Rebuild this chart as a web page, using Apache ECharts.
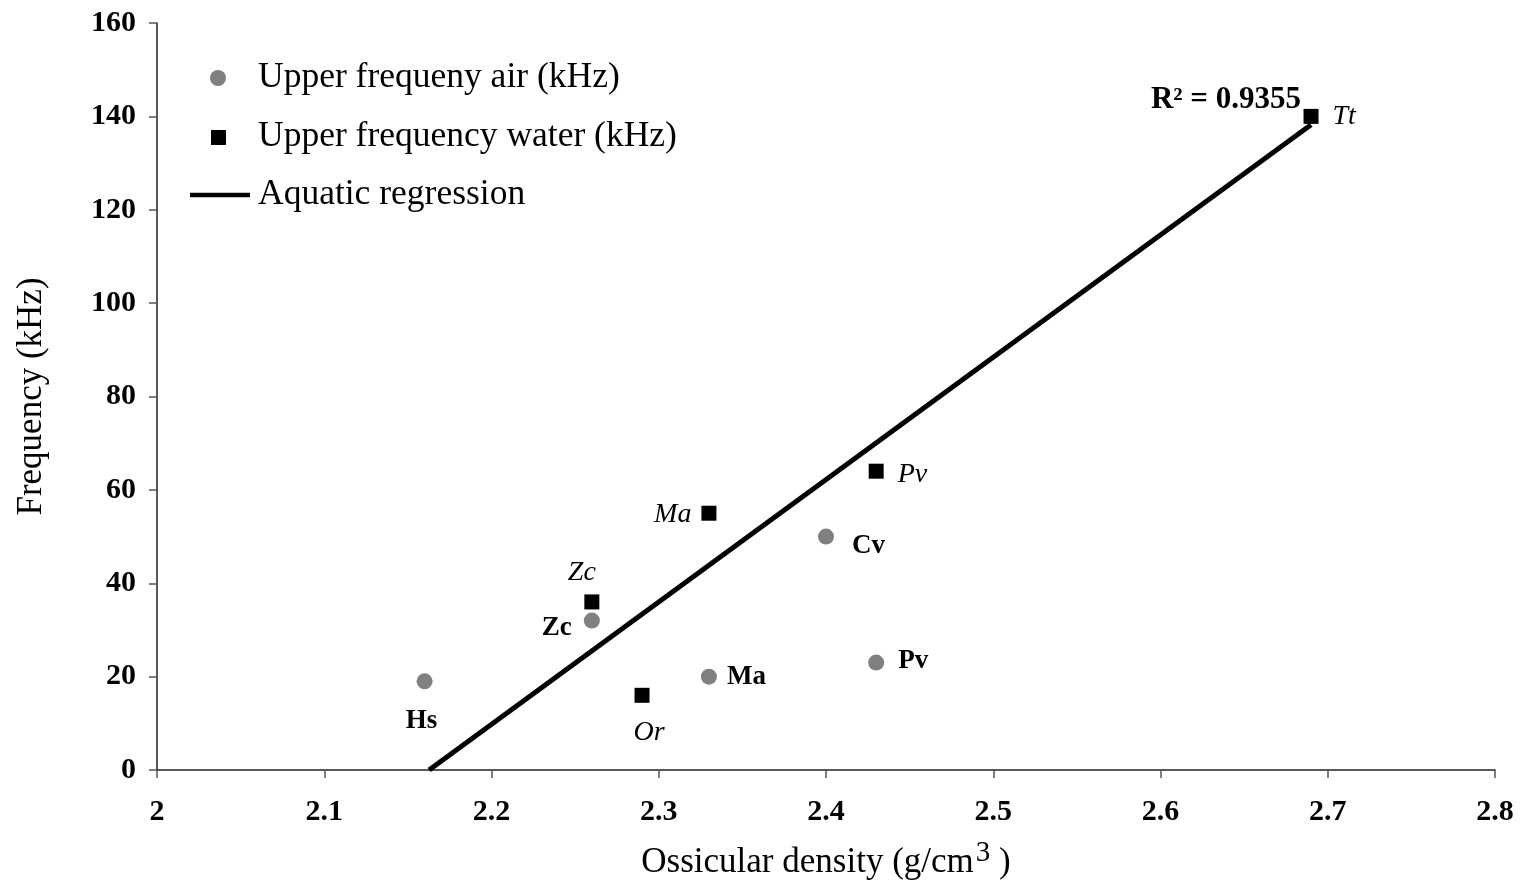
<!DOCTYPE html>
<html>
<head>
<meta charset="utf-8">
<title>Ossicular density vs upper frequency</title>
<script src="https://cdn.jsdelivr.net/npm/echarts/dist/echarts.min.js"></script>
<style>
  html, body { margin: 0; padding: 0; background: #fff; }
  #chart { width: 1526px; height: 882px; }
</style>
</head>
<body>
<div id="chart"></div>
<script>
// Upper hearing frequency in air (kHz) against ossicular density (g/cm3)
const airX = [2.16, 2.26, 2.33, 2.40, 2.43];
const airY = [19, 32, 20, 50, 23];
const airNames = ['Hs', 'Zc', 'Ma', 'Cv', 'Pv'];

// Upper hearing frequency in water (kHz) against ossicular density (g/cm3)
const waterX = [2.26, 2.29, 2.33, 2.43, 2.69];
const waterY = [36, 16, 55, 64, 140];
const waterNames = ['Zc', 'Or', 'Ma', 'Pv', 'Tt'];

const xTicks = [2, 2.1, 2.2, 2.3, 2.4, 2.5, 2.6, 2.7, 2.8];
const yTicks = [0, 20, 40, 60, 80, 100, 120, 140, 160];
const r2Text = 'R² = 0.9355';

// where each species label sits relative to its marker
const airLabelPos = [
  { position: 'bottom', distance: 18, offset: [-3, 0] },
  { position: 'left', distance: 12, offset: [0, 7] },
  { position: 'right', distance: 10 },
  { position: 'right', distance: 18, offset: [0, 9] },
  { position: 'right', distance: 14, offset: [0, -2] }
];
const waterLabelPos = [
  { position: 'top', distance: 8, offset: [-10, 0] },
  { position: 'bottom', distance: 14, offset: [7, 2] },
  { position: 'left', distance: 10, offset: [0, 1] },
  { position: 'right', distance: 14, offset: [0, 3] },
  { position: 'right', distance: 14 }
];

// least-squares fit through the aquatic points, drawn from its x-intercept
function fitLine(xs, ys) {
  const n = xs.length;
  const mx = xs.reduce((a, b) => a + b, 0) / n;
  const my = ys.reduce((a, b) => a + b, 0) / n;
  let sxy = 0, sxx = 0;
  for (let i = 0; i < n; i++) {
    sxy += (xs[i] - mx) * (ys[i] - my);
    sxx += (xs[i] - mx) * (xs[i] - mx);
  }
  const slope = sxy / sxx;
  const intercept = my - slope * mx;
  return { slope, intercept };
}
const fit = fitLine(waterX, waterY);
const xStart = -fit.intercept / fit.slope;
const xEnd = Math.max(...waterX);
const regression = [[xStart, 0], [xEnd, fit.slope * xEnd + fit.intercept]];

const SERIF = '"Liberation Serif", "Times New Roman", serif';
const labelBold = { fontFamily: SERIF, fontWeight: 'bold', fontSize: 27, color: '#000' };
const labelItalic = { fontFamily: SERIF, fontStyle: 'italic', fontSize: 28, color: '#000' };

const chart = echarts.init(document.getElementById('chart'), null, { renderer: 'canvas' });

chart.setOption({
  animation: false,
  backgroundColor: '#fff',
  grid: { left: 157, right: 31, top: 23, bottom: 112, containLabel: false, outerBoundsMode: 'none' },
  xAxis: {
    type: 'value',
    min: xTicks[0],
    max: xTicks[xTicks.length - 1],
    interval: 0.1,
    name: 'Ossicular density (g/cm{sup|3} )',
    nameLocation: 'middle',
    nameGap: 69,
    nameTextStyle: {
      fontFamily: SERIF, fontSize: 35, color: '#000',
      rich: { sup: { fontFamily: SERIF, fontSize: 29, color: '#000', padding: [0, 0, 18, 2] } }
    },
    axisLine: { show: true, onZero: false, lineStyle: { color: '#222', width: 1.5 } },
    axisTick: { show: true, inside: false, length: 8, lineStyle: { color: '#555', width: 1.5 } },
    axisLabel: {
      margin: 27, fontFamily: SERIF, fontWeight: 'bold', fontSize: 30, color: '#000',
      formatter: v => String(Math.round(v * 10) / 10)
    },
    splitLine: { show: false }
  },
  yAxis: {
    type: 'value',
    min: yTicks[0],
    max: yTicks[yTicks.length - 1],
    interval: 20,
    name: 'Frequency (kHz)',
    nameLocation: 'middle',
    nameGap: 108,
    nameRotate: 90,
    nameTextStyle: { fontFamily: SERIF, fontSize: 35, color: '#000' },
    axisLine: { show: true, onZero: false, lineStyle: { color: '#222', width: 1.5 } },
    axisTick: { show: true, inside: false, length: 8, lineStyle: { color: '#555', width: 1.5 } },
    axisLabel: { margin: 21, fontFamily: SERIF, fontWeight: 'bold', fontSize: 30, color: '#000' },
    splitLine: { show: false }
  },
  graphic: [
    { type: 'circle', shape: { cx: 218, cy: 78, r: 8 }, style: { fill: '#808080' } },
    { type: 'rect', shape: { x: 211, y: 130, width: 15, height: 15 }, style: { fill: '#000' } },
    { type: 'line', shape: { x1: 190, y1: 195, x2: 250, y2: 195 }, style: { stroke: '#000', lineWidth: 4.5 } },
    { type: 'text', x: 258, y: 78, style: { text: 'Upper frequeny air (kHz)', font: '35.5px ' + SERIF, fill: '#000', verticalAlign: 'middle' } },
    { type: 'text', x: 258, y: 137, style: { text: 'Upper frequency water (kHz)', font: '35.5px ' + SERIF, fill: '#000', verticalAlign: 'middle' } },
    { type: 'text', x: 258, y: 195, style: { text: 'Aquatic regression', font: '35.5px ' + SERIF, fill: '#000', verticalAlign: 'middle' } }
  ],
  series: [
    {
      name: 'Aquatic regression',
      type: 'line',
      data: regression.map((p, i) => i === regression.length - 1 ? {
        value: p,
        label: {
          show: true, formatter: r2Text, position: 'left', distance: 10, offset: [0, -25],
          fontFamily: SERIF, fontWeight: 'bold', fontSize: 31, color: '#000'
        }
      } : { value: p }),
      symbol: 'circle',
      symbolSize: 0,
      showSymbol: true,
      lineStyle: { color: '#000', width: 5, opacity: 1 },
      itemStyle: { color: '#000', opacity: 1 },
      z: 1
    },
    {
      name: 'Upper frequeny air (kHz)',
      type: 'scatter',
      symbol: 'circle',
      symbolSize: 16,
      itemStyle: { color: '#808080', opacity: 1 },
      data: airX.map((x, i) => ({
        name: airNames[i],
        value: [x, airY[i]],
        label: Object.assign({ show: true, formatter: '{b}' }, labelBold, airLabelPos[i])
      })),
      z: 3
    },
    {
      name: 'Upper frequency water (kHz)',
      type: 'scatter',
      symbol: 'rect',
      symbolSize: 15,
      itemStyle: { color: '#000', opacity: 1 },
      data: waterX.map((x, i) => ({
        name: waterNames[i],
        value: [x, waterY[i]],
        label: Object.assign({ show: true, formatter: '{b}' }, labelItalic, waterLabelPos[i])
      })),
      z: 3
    }
  ]
});
</script>
</body>
</html>
